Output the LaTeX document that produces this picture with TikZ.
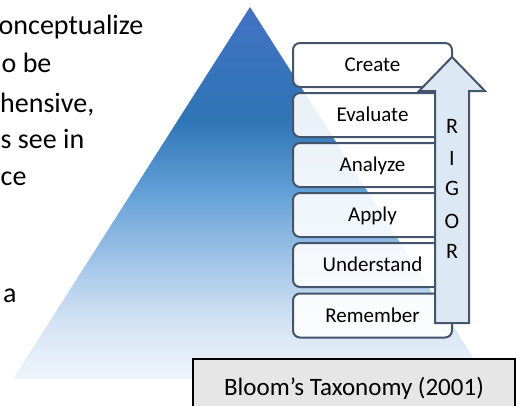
\documentclass[tikz,border=0pt]{standalone}
\usepackage{fontspec}
\setmainfont{Carlito}
\definecolor{tritop}{RGB}{68,114,196}
\definecolor{tri1}{RGB}{46,117,182}
\definecolor{tri2}{RGB}{96,158,214}
\definecolor{tri3}{RGB}{160,196,231}
\definecolor{tri4}{RGB}{210,226,243}
\definecolor{tribot}{RGB}{240,245,252}
\definecolor{slate}{RGB}{68,84,106}
\definecolor{arrowfill}{RGB}{221,232,245}
\definecolor{capfill}{RGB}{231,230,230}
\pgfdeclareverticalshading{triangshade}{100bp}{color(0bp)=(tribot); color(25bp)=(tribot); color(33bp)=(tri4); color(41bp)=(tri3); color(50.5bp)=(tri2); color(60bp)=(tri1); color(75bp)=(tritop); color(100bp)=(tritop)}
\tikzset{
  stackbox/.style={draw=slate, line width=2pt, rounded corners=7pt, fill=white, fill opacity=0.9, text opacity=1,
    minimum width=159pt, minimum height=44pt, inner sep=0pt, text height=13.5pt, text depth=0pt,
    font=\fontsize{21}{25}\selectfont},
  lefttext/.style={anchor=base west, inner sep=0pt, font=\fontsize{28}{34}\selectfont},
  rigorletter/.style={anchor=base, inner sep=0pt, font=\fontsize{22}{26}\selectfont},
}
\begin{document}
\begin{tikzpicture}[x=1pt,y=-1pt]
\useasboundingbox (0,0) rectangle (516,405);
\clip (0,0) rectangle (516,405);
% left text
\node[lefttext] (l1) at (-1.5,34) {onceptualize};
\node[lefttext] (l2) at (1.5,72.3) {o be};
\node[lefttext] (l3) at (0,112.7) {hensive,};
\node[lefttext] (l4) at (0.5,148.3) {s see in};
\node[lefttext] (l5) at (0.5,185) {ce};
\node[lefttext] (l6) at (3,302.7) {a};
% triangle
\path[shading=triangshade] (250,7) -- (487,379) -- (13,379) -- cycle;
% caption box
\draw[line width=2pt, fill=capfill] (193,359) rectangle (515,420);
\node[anchor=base, inner sep=0pt, font=\fontsize{25}{30}\selectfont] (cap) at (354,395) {Bloom’s Taxonomy (2001)};
% stack
\node[stackbox] (create) at (372.5,65) {Create};
\node[stackbox] (evaluate) at (372.5,115) {Evaluate};
\node[stackbox] (analyze) at (372.5,165) {Analyze};
\node[stackbox] (apply) at (372.5,215) {Apply};
\node[stackbox] (understand) at (372.5,265) {Understand};
\node[stackbox] (remember) at (372.5,315.5) {Remember};
% arrow
\draw[draw=slate, line width=2pt, fill=arrowfill]
  (435,323) -- (435,91) -- (419,91) -- (452,57) -- (485,91) -- (469,91) -- (469,323) -- cycle;
\node[rigorletter] (r1) at (452,133.3) {R};
\node[rigorletter] (r2) at (452,165) {I};
\node[rigorletter] (r3) at (452,195.5) {G};
\node[rigorletter] (r4) at (452,228.3) {O};
\node[rigorletter] (r5) at (452,258.3) {R};
\end{tikzpicture}
\end{document}
